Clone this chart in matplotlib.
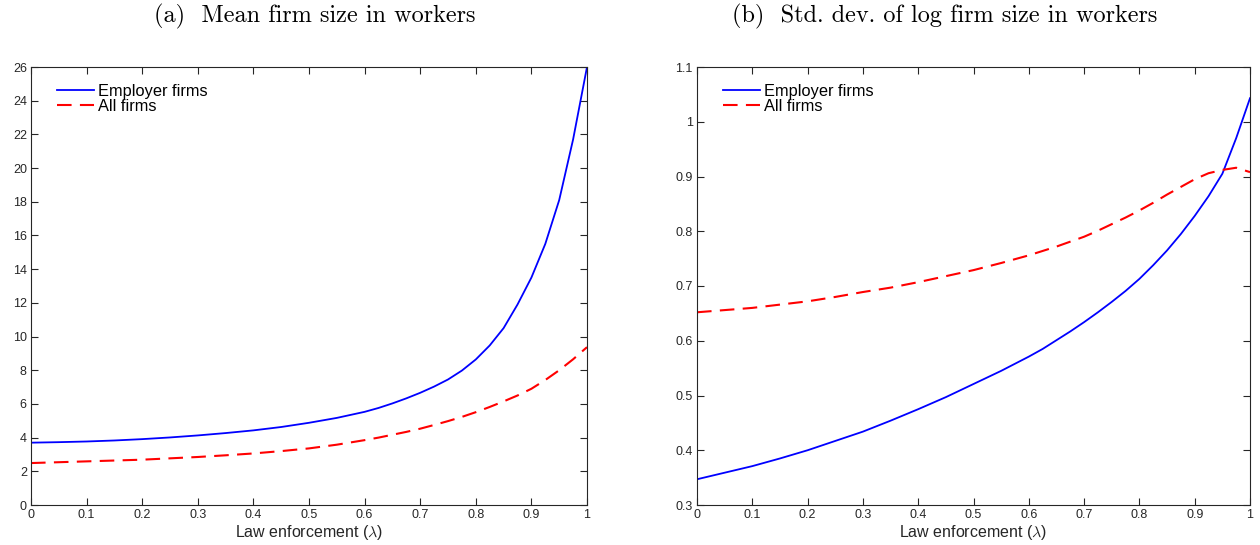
import matplotlib
matplotlib.use("Agg")
import matplotlib.pyplot as plt
from matplotlib.ticker import FuncFormatter

plt.rcParams['font.family'] = ['Liberation Sans', 'DejaVu Sans']
plt.rcParams['mathtext.fontset'] = 'cm'

# datos
lam = [0, 0.05, 0.1, 0.15, 0.2, 0.25, 0.3, 0.35, 0.4, 0.45, 0.5, 0.55,
       0.6, 0.625, 0.65, 0.675, 0.7, 0.725, 0.75, 0.775, 0.8, 0.825, 0.85, 0.875,
       0.9, 0.925, 0.95, 0.975, 1.0]

# (a) tamano medio
media_empleadoras = [3.70, 3.73, 3.77, 3.83, 3.91, 4.01, 4.13, 4.27, 4.43, 4.63, 4.88, 5.17,
                     5.53, 5.76, 6.03, 6.33, 6.66, 7.03, 7.45, 7.98, 8.64, 9.47, 10.5, 11.9,
                     13.5, 15.5, 18.1, 21.7, 26.0]
media_todas = [2.49, 2.54, 2.59, 2.64, 2.69, 2.77, 2.85, 2.95, 3.06, 3.20, 3.36, 3.58,
               3.85, 4.00, 4.17, 4.34, 4.53, 4.75, 4.98, 5.23, 5.51, 5.82, 6.15, 6.50,
               6.90, 7.42, 8.00, 8.65, 9.37]

# (b) desviacion estandar del log
sd_empleadoras = [0.347, 0.359, 0.371, 0.385, 0.400, 0.417, 0.434, 0.454, 0.475, 0.497, 0.521, 0.545,
                  0.571, 0.585, 0.601, 0.617, 0.634, 0.652, 0.671, 0.691, 0.713, 0.738, 0.765, 0.795,
                  0.828, 0.864, 0.905, 0.970, 1.043]
sd_todas = [0.652, 0.656, 0.660, 0.666, 0.672, 0.680, 0.689, 0.697, 0.707, 0.718, 0.729, 0.742,
            0.756, 0.764, 0.772, 0.781, 0.790, 0.801, 0.813, 0.825, 0.838, 0.852, 0.867, 0.881,
            0.895, 0.906, 0.912, 0.916, 0.908]

x_ticks = [0, 0.1, 0.2, 0.3, 0.4, 0.5, 0.6, 0.7, 0.8, 0.9, 1]
y_ticks_a = list(range(0, 27, 2))
y_ticks_b = [0.3, 0.4, 0.5, 0.6, 0.7, 0.8, 0.9, 1.0, 1.1]

fig = plt.figure(figsize=(12.6, 5.45), dpi=100)
ax1 = fig.add_axes([31 / 1260, 40 / 545, 556 / 1260, 438 / 545])
ax2 = fig.add_axes([697 / 1260, 40 / 545, 553 / 1260, 438 / 545])

fmt = FuncFormatter(lambda v, p: '%g' % round(v, 2))


def estilo(ax, ylim, yticks):
    ax.set_xlim(0, 1)
    ax.set_ylim(*ylim)
    ax.set_xticks(x_ticks)
    ax.set_yticks(yticks)
    ax.xaxis.set_major_formatter(fmt)
    ax.yaxis.set_major_formatter(fmt)
    ax.tick_params(direction='in', top=True, right=True, length=5, width=0.8,
                   labelsize=9, colors='#262626', pad=3)
    for s in ax.spines.values():
        s.set_color('#262626')
        s.set_linewidth(0.8)
    ax.set_xlabel(r'Law enforcement ($\lambda$)', fontsize=11.5, color='#262626', labelpad=1)
    ax.legend(loc='upper left', frameon=False, fontsize=11.8, handlelength=2.25,
              handletextpad=0.25, labelspacing=0.0, borderaxespad=0.5,
              bbox_to_anchor=(0.02, 0.995))


ax1.plot(lam, media_empleadoras, color='blue', lw=1.3, label='Employer firms')
ax1.plot(lam, media_todas, color='red', lw=1.5, dashes=(7, 4), label='All firms')
estilo(ax1, (0, 26), y_ticks_a)

ax2.plot(lam, sd_empleadoras, color='blue', lw=1.3, label='Employer firms')
ax2.plot(lam, sd_todas, color='red', lw=1.5, dashes=(7, 4), label='All firms')
estilo(ax2, (0.3, 1.1), y_ticks_b)

fig.text(315 / 1260, 1 - 16 / 545, '(a)  Mean firm size in workers', family='cmr10',
         fontsize=17.5, ha='center', va='center')
fig.text(945 / 1260, 1 - 16 / 545, '(b)  Std. dev. of log firm size in workers', family='cmr10',
         fontsize=17.5, ha='center', va='center')

fig.savefig('out.png', dpi=100)
